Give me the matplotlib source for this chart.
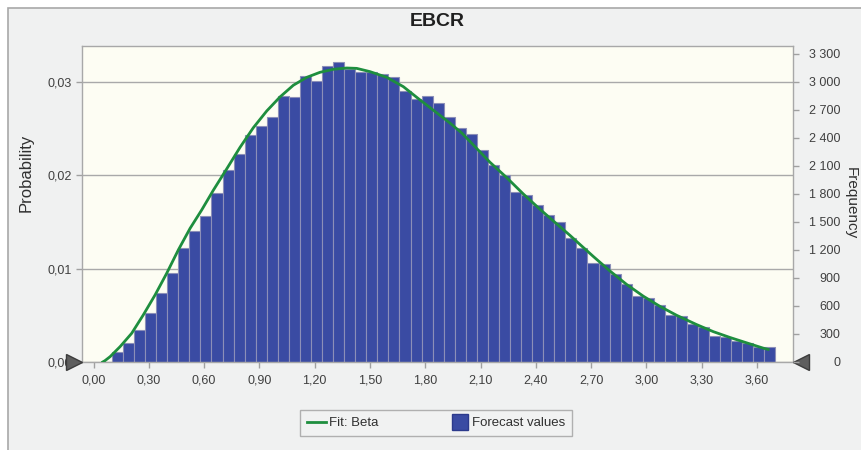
import matplotlib
matplotlib.use("Agg")
import matplotlib.pyplot as plt
from matplotlib.lines import Line2D
from matplotlib.patches import Rectangle
from matplotlib.ticker import FixedLocator, FuncFormatter
import numpy as np

plt.rcParams['font.family'] = ['Liberation Sans', 'DejaVu Sans']

# forecast histogram, 100 000 trials, bins of 0.06 starting at 0.10
trials = 100000
bin_start = 0.10
bin_width = 0.06
freq = [110, 200, 343, 522, 736, 957, 1218, 1407, 1564, 1807,
        2057, 2225, 2432, 2529, 2629, 2850, 2843, 3068, 3014, 3171,
        3211, 3136, 3111, 3104, 3082, 3057, 2907, 2814, 2850, 2779,
        2629, 2504, 2443, 2271, 2111, 2004, 1825, 1789, 1682, 1575,
        1503, 1325, 1225, 1064, 1050, 943, 836, 707, 682, 611,
        504, 493, 410, 371, 279, 264, 229, 200, 164, 157]

# beta fit (x, frequency scale)
fit_x = [0.05, 0.062, 0.09, 0.144, 0.207, 0.27, 0.334, 0.397, 0.46, 0.524,
         0.587, 0.65, 0.723, 0.795, 0.867, 0.94, 1.012, 1.084, 1.157, 1.229,
         1.301, 1.374, 1.428, 1.50, 1.591, 1.681, 1.772, 1.862, 1.934, 2.00,
         2.061, 2.151, 2.242, 2.332, 2.423, 2.513, 2.586, 2.622, 2.712, 2.802,
         2.893, 2.983, 3.074, 3.164, 3.273, 3.363, 3.454, 3.544, 3.634, 3.66]
fit_f = [0, 14, 57, 164, 307, 504, 718, 950, 1200, 1432,
         1629, 1840, 2070, 2300, 2510, 2690, 2840, 2965, 3050, 3104,
         3136, 3150, 3146, 3111, 3050, 2950, 2807, 2670, 2560, 2450,
         2325, 2140, 1975, 1800, 1635, 1480, 1355, 1290, 1130, 975,
         830, 705, 595, 500, 400, 325, 262, 205, 148, 135]

x_ticks = [0.0, 0.3, 0.6, 0.9, 1.2, 1.5, 1.8, 2.1, 2.4, 2.7, 3.0, 3.3, 3.6]
prob_ticks = [0.0, 0.01, 0.02, 0.03]
freq_ticks = list(range(0, 3301, 300))

blue = '#3A4BA3'
green = '#1E8E3E'
grey_txt = '#404040'

fig = plt.figure(figsize=(8.62, 4.5), dpi=100)
fig.patch.set_facecolor('white')
fig.patches.append(Rectangle((8 / 862, -0.1), 1.2, 1.1 - 8 / 450, transform=fig.transFigure,
                             facecolor='#F0F1F1', edgecolor='#A8A8A8', lw=1.2, zorder=-10))

ax = fig.add_axes([82 / 862, 88 / 450, 711 / 862, 316 / 450])
ax.set_facecolor('#FDFDF3')

edges = bin_start + bin_width * np.arange(len(freq))
ax.bar(edges, np.array(freq) / trials, width=bin_width, align='edge',
       color=blue, edgecolor='#8C8FB8', linewidth=0.8, zorder=2)
ax.plot(fit_x, np.array(fit_f) / trials, color=green, lw=2, zorder=3)

ax.set_xlim(-0.0624, 3.795)
ax.set_ylim(0, 0.033857)
ax.set_axisbelow(True)
ax.yaxis.grid(True, color='#A9A9A9', lw=1)
ax.xaxis.grid(False)

ax.xaxis.set_major_locator(FixedLocator(x_ticks))
ax.xaxis.set_major_formatter(FuncFormatter(lambda v, p: f"{v:.2f}".replace('.', ',')))
ax.yaxis.set_major_locator(FixedLocator(prob_ticks))
ax.yaxis.set_major_formatter(FuncFormatter(lambda v, p: f"{v:.2f}".replace('.', ',')))
ax.tick_params(axis='both', colors='#A0A0A0', labelcolor=grey_txt, labelsize=9, length=4, width=1)
ax.tick_params(axis='x', pad=5)
for s in ax.spines.values():
    s.set_color('#A8A8A8')
    s.set_linewidth(1)

ax2 = ax.twinx()
ax2.set_ylim(0, 0.033857 * trials)
ax2.yaxis.set_major_locator(FixedLocator(freq_ticks))
ax2.yaxis.set_major_formatter(FuncFormatter(lambda v, p: f"{int(v):,}".replace(',', ' ')))
ax2.tick_params(axis='y', colors='#A0A0A0', labelcolor=grey_txt, labelsize=9, length=4, width=1, pad=30)
for lab in ax2.get_yticklabels():
    lab.set_horizontalalignment('right')
for s in ax2.spines.values():
    s.set_visible(False)

# certainty grabbers
ax.plot([-0.0113], [0], transform=ax.transAxes, marker='>', ms=11, color='#5E5E5E',
        markeredgecolor='#3C3C3C', clip_on=False, zorder=5)
ax.plot([1.0113], [0], transform=ax.transAxes, marker='<', ms=11, color='#5E5E5E',
        markeredgecolor='#3C3C3C', clip_on=False, zorder=5)

fig.text(0.507, 0.952, 'EBCR', ha='center', va='center', fontsize=14, fontweight='bold', color='#202020')
fig.text(0.030, 0.615, 'Probability', ha='center', va='center', rotation=90, fontsize=12, color='#303030')
fig.text(0.987, 0.549, 'Frequency', ha='center', va='center', rotation=270, fontsize=11, color='#303030')

handles = [Line2D([], [], color=green, lw=2),
           Line2D([], [], color=blue, marker='s', ms=12, linestyle='none', markeredgecolor='#2C3A8C')]
leg = fig.legend(handles, ['Fit: Beta', 'Forecast values'], loc='center', bbox_to_anchor=(0.506, 0.06),
                 ncol=2, fontsize=9.5, frameon=True, fancybox=False, edgecolor='#A0A0A0',
                 facecolor='#F2F3F3', handlelength=1.4, handletextpad=0.2, columnspacing=5.5,
                 borderpad=0.55)
leg.get_frame().set_linewidth(1)
for t in leg.get_texts():
    t.set_color('#303030')

fig.savefig('out.png', dpi=100)
